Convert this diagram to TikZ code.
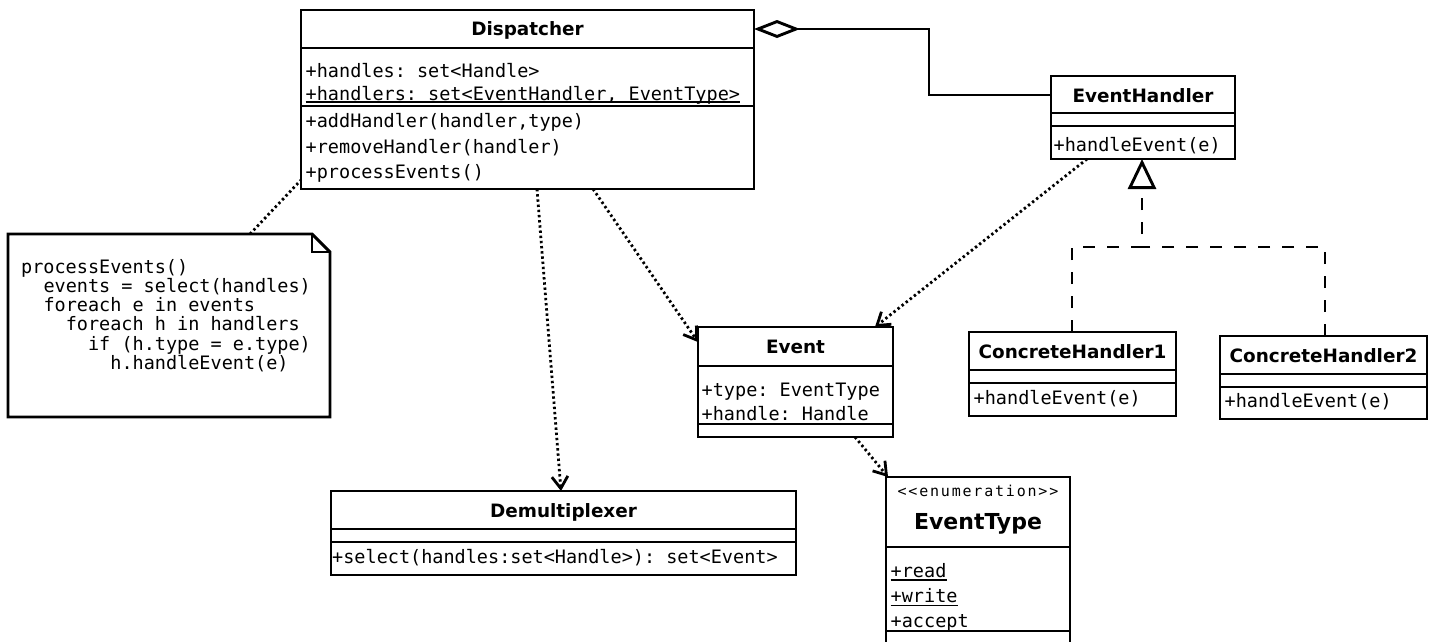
\documentclass[tikz,border=0pt]{standalone}
\usepackage{fontspec}
\setmainfont{DejaVu Sans}
\setmonofont{DejaVu Sans Mono}
\newfontfamily\stereofont[LetterSpace=12]{DejaVu Sans Mono}
\usetikzlibrary{arrows.meta,calc}

\tikzset{
  cls/.style={draw, line width=2.9pt, inner sep=0pt, outer sep=0pt, anchor=north west, fill=white},
  sepline/.style={line width=2.9pt},
  ttl/.style={inner sep=0pt, anchor=base, font=\fontsize{18.4}{22}\selectfont\bfseries},
  bigttl/.style={inner sep=0pt, anchor=base, font=\fontsize{22}{26}\selectfont\bfseries},
  stereo/.style={inner sep=0pt, anchor=base, font=\fontsize{15}{17}\selectfont\stereofont},
  mem/.style={inner sep=0pt, anchor=base west, font=\fontsize{18.5}{22}\selectfont\ttfamily},
  uline/.style={line width=1.5pt},
  dotline/.style={line width=2.8pt, dash pattern=on 2.4pt off 2.8pt},
  dep/.style={dotline, -{Straight Barb[length=12pt,width=16pt]}},
  dashline/.style={line width=2.9pt, dash pattern=on 12pt off 12pt},
  assoc/.style={line width=2.9pt, line join=miter},
}

\newcommand{\umlcls}[7]{%
  \node[cls, minimum width={#4pt-#2pt}, minimum height={#5pt-#3pt}] (#1) at (#2,#3) {};
  \draw[sepline] ($(#1.north west)+(0,#6-#3)$) -- ($(#1.north east)+(0,#6-#3)$);
  \draw[sepline] ($(#1.north west)+(0,#7-#3)$) -- ($(#1.north east)+(0,#7-#3)$);
}

\begin{document}
\begin{tikzpicture}[x=1pt, y=-1pt]
\useasboundingbox (0,0) rectangle (1435,641);
\clip (0,0) rectangle (1435,641);

% ---------- classes ----------
\umlcls{disp}{301}{10}{754}{189}{48}{106}
\umlcls{eh}{1051}{76}{1235}{159}{113}{126}
\umlcls{ch1}{969}{332}{1176}{416}{370}{383}
\umlcls{ch2}{1220}{336}{1427}{419}{374}{387}
\umlcls{ev}{698}{327}{893}{437}{366}{424}
\umlcls{demux}{331}{491}{796}{575}{529}{542}
\umlcls{et}{886}{477}{1070}{660}{547}{631}

% Dispatcher
\node[ttl] (dispT) at (527.5,35) {Dispatcher};
\node[mem] (dispA1) at (305.5,77) {+handles: set<Handle>};
\node[mem] (dispA2) at (305.5,100) {+handlers: set<EventHandler, EventType>};
\draw[uline] ($(dispA2.base west)+(0,2)$) -- ($(dispA2.base east)+(0,2)$);
\node[mem] (dispM1) at (305.5,127) {+addHandler(handler,type)};
\node[mem] (dispM2) at (305.5,153) {+removeHandler(handler)};
\node[mem] (dispM3) at (305.5,178) {+processEvents()};

% EventHandler
\node[ttl] (ehT) at (1143,102) {EventHandler};
\node[mem] (ehM) at (1053.5,151) {+handleEvent(e)};

% ConcreteHandler1 / 2
\node[ttl] (ch1T) at (1072.5,358) {ConcreteHandler1};
\node[mem] (ch1M) at (973.5,404) {+handleEvent(e)};
\node[ttl] (ch2T) at (1323.5,362) {ConcreteHandler2};
\node[mem] (ch2M) at (1224.5,407) {+handleEvent(e)};

% Event
\node[ttl] (evT) at (795.5,353) {Event};
\node[mem] (evA1) at (701.5,396) {+type: EventType};
\node[mem] (evA2) at (701.5,420) {+handle: Handle};

% Demultiplexer
\node[ttl] (demuxT) at (563.5,517) {Demultiplexer};
\node[mem] (demuxM) at (332,563) {+select(handles:set<Handle>): set<Event>};

% EventType
\node[stereo] (etS) at (978,496) {<<enumeration>>};
\node[bigttl] (etT) at (978,529) {EventType};
\node[mem] (etA1) at (890.5,577) {+read};
\draw[uline] ($(etA1.base west)+(0,3)$) -- ($(etA1.base east)+(0,3)$);
\node[mem] (etA2) at (890.5,602) {+write};
\draw[uline] ($(etA2.base west)+(0,3.5)$) -- ($(etA2.base east)+(0,3.5)$);
\node[mem] (etA3) at (890.5,627) {+accept};

% ---------- note ----------
\node[inner sep=0pt, outer sep=0pt, minimum width=322pt, minimum height=183pt, anchor=north west] (note) at (8,234) {};
\draw[line width=2.9pt, fill=white, line join=miter]
  (note.north west) -- ($(note.north east)+(-18,0)$) -- ($(note.north east)+(0,18)$)
  -- (note.south east) -- (note.south west) -- cycle;
\draw[line width=1.5pt] ($(note.north east)+(-18,0)$) -- ($(note.north east)+(-18,18)$) -- ($(note.north east)+(0,18)$);
\node[mem] (n1) at (21,273) {processEvents()};
\node[mem] (n2) at (43.3,292) {events = select(handles)};
\node[mem] (n3) at (43.3,311) {foreach e in events};
\node[mem] (n4) at (65.6,330) {foreach h in handlers};
\node[mem] (n5) at (87.9,350) {if (h.type = e.type)};
\node[mem] (n6) at (110.2,369) {h.handleEvent(e)};

% ---------- connectors ----------
% note link
\draw[dotline] ($(note.north west)+(242,0)$) -- ($(disp.south west)+(0,-9)$);

% aggregation
\coordinate (aggA) at ($(disp.north east)+(0,19)$);
\coordinate (ehIn) at ($(eh.north west)+(0,19)$);
\draw[assoc, {Diamond[open,length=46pt,width=18pt]}-] (aggA) -- ++(175,0) |- (ehIn);

% generalization
\coordinate (gj) at (1142,247);
\draw[dashline, -{Triangle[open,length=30pt,width=28pt]}] ($(ch1.north west)+(103,0)$) |- (gj) -- ($(eh.south west)+(91,0)$);
\draw[dashline] ($(ch2.north west)+(105,0)$) |- (gj);

% dependencies
\draw[dep] ($(disp.south west)+(236,0)$) -- ($(demux.north west)+(230,0)$);
\draw[dep] ($(disp.south west)+(292,0)$) -- ($(ev.north west)+(0,15)$);
\draw[dep] ($(eh.south west)+(36,0)$) -- ($(ev.north west)+(177,0)$);
\draw[dep] ($(ev.south west)+(157,0)$) -- ($(et.north west)+(2,0)$);
\end{tikzpicture}
\end{document}
